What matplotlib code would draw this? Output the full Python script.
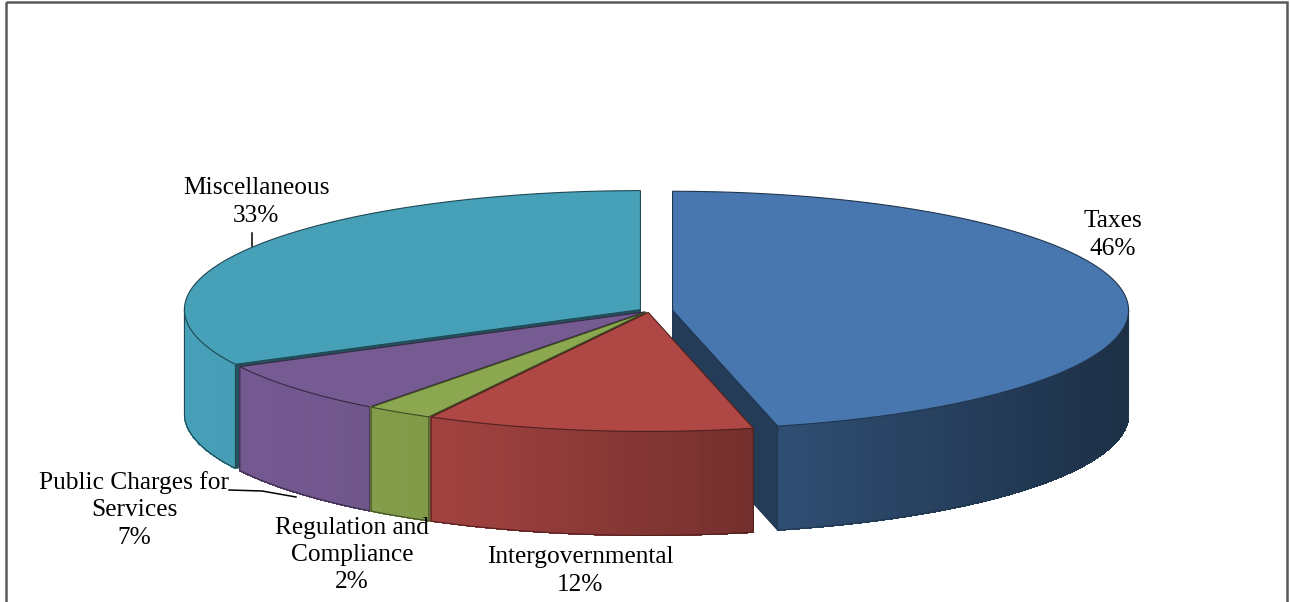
import numpy as np
import matplotlib.pyplot as plt
from matplotlib.patches import Polygon, Rectangle
import matplotlib.colors as mcolors

plt.rcParams['font.family'] = ['Liberation Serif', 'DejaVu Serif']

# data (clockwise from 12 o'clock), shares in percent
labels = ['Taxes', 'Intergovernmental', 'Regulation and\nCompliance',
          'Public Charges for\nServices', 'Miscellaneous']
values = [46.3, 11.6, 2.4, 7.1, 32.6]
colors = ['#4877AF', '#AF4845', '#8BA74F', '#765B93', '#46A0B8']
explode = [0.052, 0.012, 0.012, 0.012, 0.022]

# label text anchors (pixel coords) and leader lines
label_pos = [(1113, 235), (580, 571), (352, 555), (134, 510), (256, 202)]
leaders = {4: [(252, 233), (252, 246)], 3: [(229, 490), (262, 491), (296, 497)]}

W, H = 1290, 602
cx, cy = 649, 311
rx, ry = 456, 119
depth = 104


def pt(t, ox, oy, z=0.0):
    tr = np.radians(t)
    return (cx + ox + rx * np.sin(tr), cy + oy - ry * np.cos(tr) + z)


def shade(c, f):
    rgb = np.array(mcolors.to_rgb(c))
    return tuple(np.clip(rgb * f, 0, 1))


def wall_factor(t):
    s = np.sin(np.radians(t))
    return np.interp(s, [-1, -0.45, 0.25, 1], [1.0, 0.92, 0.65, 0.4])


fig = plt.figure(figsize=(W / 100, H / 100), dpi=100)
ax = fig.add_axes([0, 0, 1, 1])
ax.set_xlim(0, W)
ax.set_ylim(H, 0)
ax.axis('off')

total = float(sum(values))
starts = np.concatenate([[0], np.cumsum(values)[:-1]]) / total * 360
ends = np.cumsum(values) / total * 360
mids = (starts + ends) / 2

# back to front drawing order
order = sorted(range(len(values)), key=lambda i: -abs(mids[i] - 180))

for i in order:
    t0, t1, c = starts[i], ends[i], colors[i]
    e = explode[i]
    ox = e * rx * np.sin(np.radians(mids[i]))
    oy = -e * ry * np.cos(np.radians(mids[i]))
    apex = (cx + ox, cy + oy)
    edge = shade(c, 0.45)

    # radial cut faces
    for t, vis in ((t0, np.sin(np.radians(t0)) < -1e-6), (t1, np.sin(np.radians(t1)) > 1e-6)):
        if not vis:
            continue
        rim = pt(t, ox, oy)
        quad = [apex, rim, (rim[0], rim[1] + depth), (apex[0], apex[1] + depth)]
        ax.add_patch(Polygon(quad, closed=True, facecolor=shade(c, 0.5),
                             edgecolor=edge, lw=0.8, zorder=2))

    # outer wall (front half only), shaded by angle
    a0, a1 = max(t0, 90), min(t1, 270)
    if a1 > a0:
        ts = np.linspace(a0, a1, max(int((a1 - a0) * 2), 2))
        for k in range(len(ts) - 1):
            p0, p1 = pt(ts[k], ox, oy), pt(ts[k + 1], ox, oy)
            q = [p0, p1, (p1[0], p1[1] + depth), (p0[0], p0[1] + depth)]
            fc = shade(c, wall_factor((ts[k] + ts[k + 1]) / 2))
            ax.add_patch(Polygon(q, closed=True, facecolor=fc, edgecolor=fc,
                                 lw=0.6, antialiased=False, zorder=2))
        bot = np.array([pt(t, ox, oy, depth) for t in ts])
        top = np.array([pt(t, ox, oy) for t in ts])
        outline = np.vstack([top[:1], bot, top[-1:]])
        ax.plot(outline[:, 0], outline[:, 1], color=edge, lw=0.8, zorder=2)

    # top face
    ts = np.linspace(t0, t1, max(int((t1 - t0) * 2), 2))
    poly = [apex] + [pt(t, ox, oy) for t in ts]
    ax.add_patch(Polygon(poly, closed=True, facecolor=c, edgecolor=edge,
                         lw=0.8, zorder=2))

# labels (percent rounded half up, as the chart shows)
for i, (lx, ly) in enumerate(label_pos):
    pct = int(values[i] / total * 100 + 0.5)
    ax.text(lx, ly, f'{labels[i]}\n{pct}%', ha='center', va='center',
            fontsize=18.3, linespacing=1.32, zorder=5)
for i, pts in leaders.items():
    pts = np.array(pts)
    ax.plot(pts[:, 0], pts[:, 1], color='black', lw=1.1, zorder=4)

# chart frame
ax.add_patch(Rectangle((6, 2), 1281, 640, fill=False, edgecolor='#5a5a5a',
                       lw=1.8, zorder=6))

fig.savefig('out.png', dpi=100)
